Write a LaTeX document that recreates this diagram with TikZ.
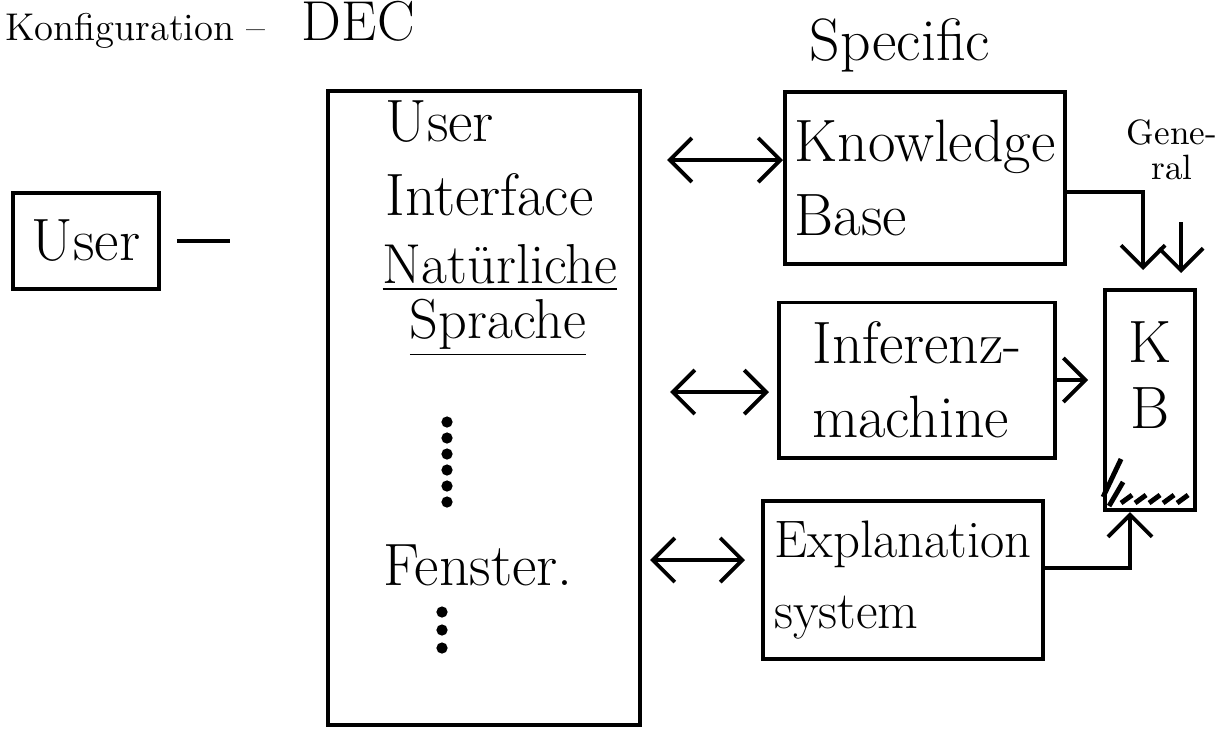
\documentclass[tikz,border=0pt]{standalone}
\usetikzlibrary{arrows.meta}
\begin{document}
\begin{tikzpicture}[x=0.01cm, y=-0.01cm, line width=1.1pt,
  >={Straight Barb[length=2.2mm,width=4.4mm]}]
\useasboundingbox (0,0) rectangle (1219,732);
\node[anchor=base west, font=\fontsize{11}{13}\selectfont, inner sep=0pt] (conf) at (4,40) {Konfiguration --};
\node[anchor=base west, font=\fontsize{16}{18}\selectfont, inner sep=0pt] (dec) at (300,40) {DEC};
\begin{scope}[every node/.style = {draw, rectangle, inner sep=0pt, align=left, font=\fontsize{17}{21}\selectfont}]
\node[minimum width=1.46cm, minimum height=0.96cm] (user) at (86,241) {User};
\node[minimum width=3.12cm, minimum height=6.33cm] (ui) at (484,408) {};
\node[minimum width=2.8cm, minimum height=1.72cm] (kbase) at (925,178) {Knowledge\\Base};
\node[minimum width=2.76cm, minimum height=1.55cm] (infer) at (917,380) {Inferenz-\\machine};
\node[minimum width=2.8cm, minimum height=1.58cm, font=\fontsize{15}{20}\selectfont] (expl) at (903,580) {Explanation\\system};
\node[minimum width=0.9cm, minimum height=2.2cm, align=center, text depth=0.5cm, font=\fontsize{17}{19}\selectfont] (kb) at (1150,400) {K\\B};
\end{scope}
\begin{scope}[every node/.style = {align=left, font=\fontsize{17}{21}\selectfont}]
\node[anchor=west] (uitext) at (372,158) {User\\Interface};
\node[font=\fontsize{16}{20}\selectfont] (natur) at (500,268) {\underline{Natürliche}};
\node[font=\fontsize{16}{20}\selectfont] (sprache) at (498,328) {\underline{Sprache}};
\node (fenster) at (478,565) {Fenster.};
\node (specific) at (900,45) {Specific};
\node[font=\fontsize{10}{10}\selectfont, align=center] (general) at (1172,150) {Gene-\\ral};
\end{scope}
\foreach \y in {422,438,...,502} \fill (447,\y) circle (1.6pt);
\foreach \y in {612,630,648} \fill (442,\y) circle (1.6pt);
\coordinate (gentop) at (1181,222);
\begin{scope}[every edge/.style = {draw, line width=1.1pt}]
\path (user) edge[shorten <=1.6mm, shorten >=9.6mm] (user -| ui.west);
\path ([yshift=1.8mm]kbase.west -| ui.east) edge[<->, shorten <=2.5mm] ([yshift=1.8mm]kbase.west);
\path ([yshift=-1.2mm]infer.west -| ui.east) edge[<->, shorten <=2.8mm, shorten >=0.8mm] ([yshift=-1.2mm]infer.west);
\path ([yshift=2mm]expl.west -| ui.east) edge[<->, shorten <=0.8mm, shorten >=1.6mm] ([yshift=2mm]expl.west);
\path (infer.east) edge[->, shorten >=1.5mm] (infer.east -| kb.west);
\path (gentop) edge[->, shorten >=1.5mm] (gentop |- kb.north);
\end{scope}
\draw[->, shorten >=1.8mm] ([yshift=-1.4mm]kbase.east) -| ([xshift=-0.7mm]kb.north);
\draw[->] ([yshift=1.2mm]expl.east) -| ([xshift=-2mm]kb.south);
% hatching
\draw[line width=1.4pt] ([yshift=1.5mm]kb.south west) -- ++(18,-38);
\draw[line width=1.4pt] ([xshift=0.6mm, yshift=0.6mm]kb.south west) -- ++(14,-24);
\foreach \i in {0,1,...,4}
  \draw[line width=1.4pt] ([xshift=\i*1.4mm+1.8mm, yshift=0.9mm]kb.south west) -- ++(11,-8);
\end{tikzpicture}
\end{document}
